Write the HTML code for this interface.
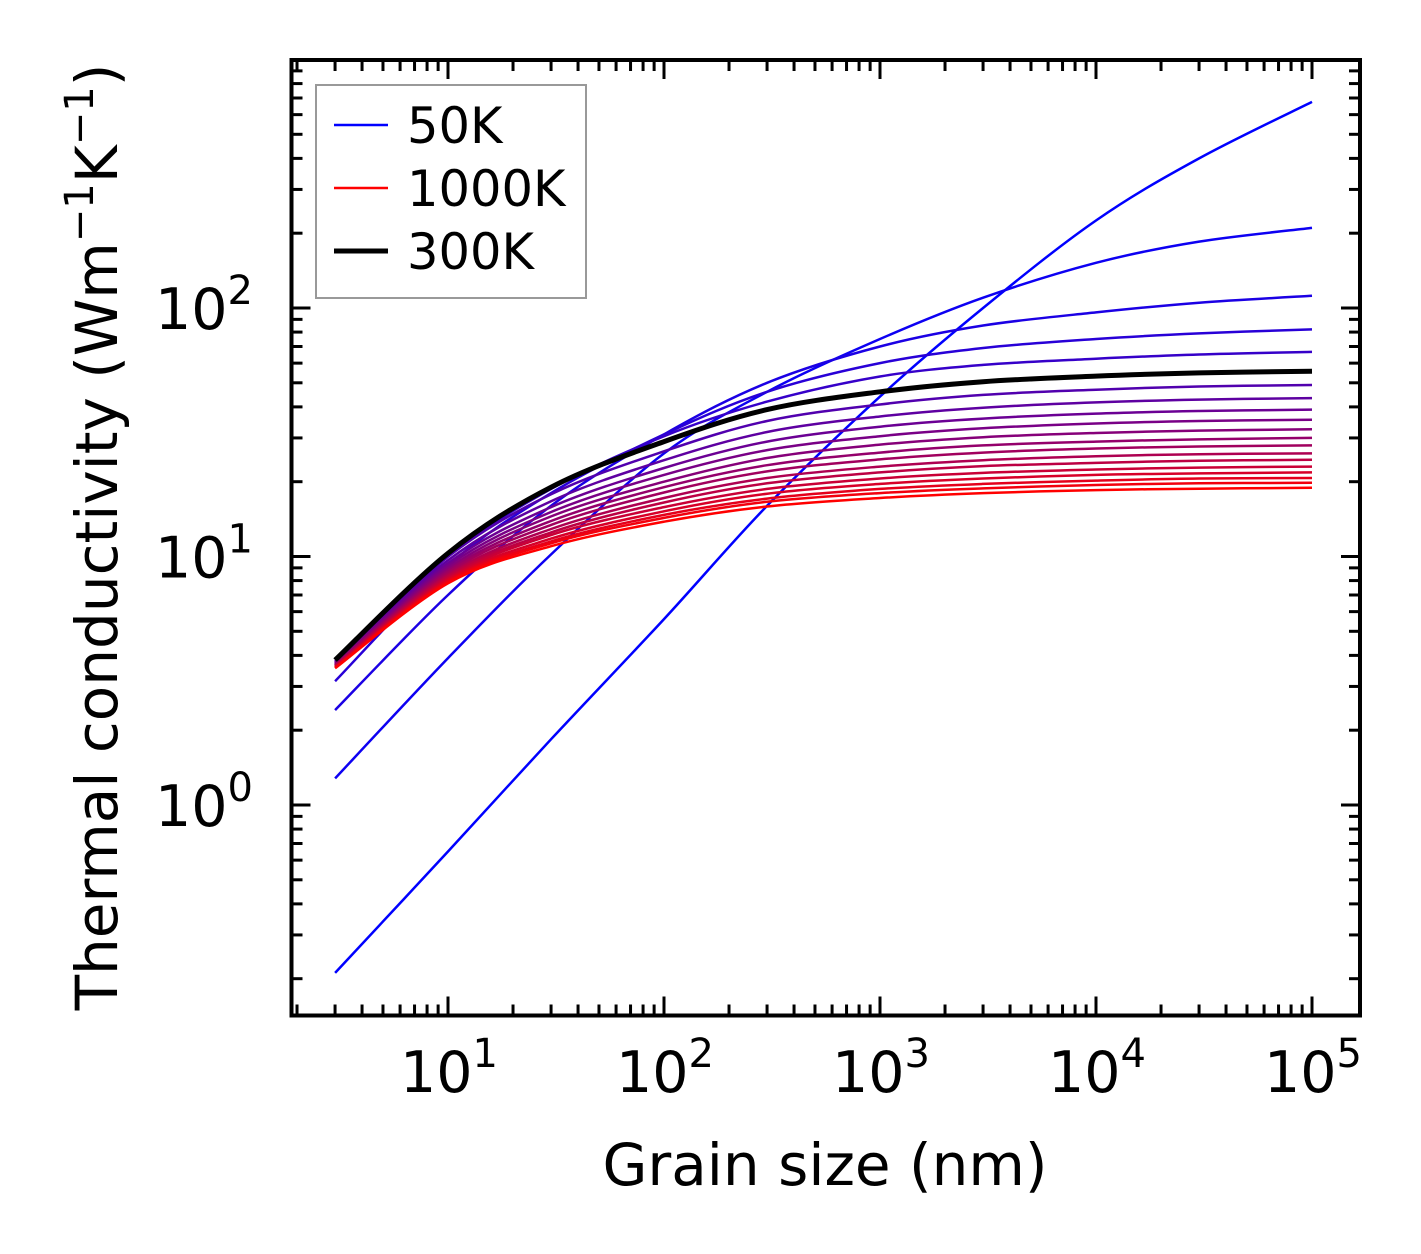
<!DOCTYPE html>
<html><head><meta charset="utf-8"><style>
html,body{margin:0;padding:0;background:#fff;}
svg{display:block;font-family:"DejaVu Sans","Liberation Sans",sans-serif;}
</style></head><body>
<svg id="chart" width="1421" height="1254" viewBox="0 0 1421 1254" xmlns="http://www.w3.org/2000/svg">
<rect width="1421" height="1254" fill="#fff"/>
<g id="curves"></g>
<g id="ticks"></g>
<rect x="291.5" y="60" width="1068.5" height="955.5" fill="none" stroke="#000" stroke-width="4"/>
<g id="labels" font-size="57"></g>
<text x="825" y="1185" font-size="58" text-anchor="middle">Grain size (nm)</text>
<text transform="translate(117,537) rotate(-90)" font-size="58" text-anchor="middle">Thermal conductivity (Wm<tspan font-size="40" dy="-24">−1</tspan><tspan dy="24">K</tspan><tspan font-size="40" dy="-24">−1</tspan><tspan dy="24">)</tspan></text>
<g>
<rect x="316" y="85" width="270" height="213" fill="#fff" stroke="#999" stroke-width="2"/>
<line x1="334" y1="125" x2="388" y2="125" stroke="#0000ff" stroke-width="2.5"/>
<text x="407" y="143" font-size="49.5">50K</text>
<line x1="334" y1="188" x2="388" y2="188" stroke="#ff0000" stroke-width="2.5"/>
<text x="407" y="206" font-size="49.5">1000K</text>
<line x1="334" y1="251" x2="388" y2="251" stroke="#000" stroke-width="5"/>
<text x="407" y="269" font-size="49.5">300K</text>
</g>
</svg>
<script>
const grainSizes = [3,10,30,100,300,1000,3000,10000,30000,100000];
const temperatures = [50,100,150,200,250,300,350,400,450,500,550,600,650,700,750,800,850,900,950,1000];
const k50 = [0.211,0.65,1.84,5.6,16,44,100,225,400,675];
const k100 = [1.28,3.9,10.2,26,46,75,110,152,185,210];
const k150 = [2.41,7.0,16,31,50,70,85,96,105,112];
const k200 = [3.15,9.2,18,31,46,60,69,75,79,82];
const k250 = [3.66,10,18.7,30.5,42,53,59,62.5,65,66.6];
const k300 = [3.83,10.3,19,29,39,46,50.5,53.2,54.8,55.7];
const k350 = [3.79,9.98,17.8,26.5,35.1,40.9,44.7,46.9,48.3,49.0];
const k400 = [3.76,9.66,16.7,24.4,31.7,36.6,39.7,41.7,42.8,43.4];
const k450 = [3.73,9.40,15.8,22.7,29.0,33.3,35.9,37.6,38.5,39.0];
const k500 = [3.71,9.18,15.1,21.3,26.8,30.5,32.8,34.3,35.1,35.5];
const k550 = [3.69,8.97,14.5,20.0,24.9,28.2,30.2,31.4,32.1,32.5];
const k600 = [3.66,8.79,13.9,19.0,23.3,26.2,28.0,29.0,29.6,30.0];
const k650 = [3.65,8.63,13.4,18.1,22.0,24.6,26.2,27.2,27.7,28.0];
const k700 = [3.63,8.47,12.9,17.2,20.7,23.0,24.4,25.3,25.8,26.0];
const k750 = [3.61,8.34,12.5,16.5,19.7,21.8,23.1,23.8,24.3,24.5];
const k800 = [3.60,8.20,12.2,15.8,18.7,20.6,21.7,22.4,22.8,23.0];
const k850 = [3.58,8.09,11.8,15.2,17.9,19.6,20.6,21.3,21.6,21.8];
const k900 = [3.57,7.98,11.5,14.7,17.1,18.7,19.6,20.2,20.6,20.7];
const k950 = [3.56,7.89,11.3,14.3,16.6,18.0,18.8,19.4,19.7,19.8];
const k1000 = [3.55,7.8,11.0,13.8,15.9,17.2,18.0,18.5,18.75,18.9];
const series = [k50,k100,k150,k200,k250,k300,k350,k400,k450,k500,k550,k600,k650,k700,k750,k800,k850,k900,k950,k1000];
const xTickExps = [1,2,3,4,5];
const yTickExps = [0,1,2];

const NS='http://www.w3.org/2000/svg';
const X0=448, XPD=216, Y0=805, YPD=248.5;
const xs = v => X0 + (Math.log10(v)-1)*XPD;
const ys = v => Y0 - Math.log10(v)*YPD;
const L=291.5, R=1360, T=60, B=1015.5;

function pathFor(vals){
  const p = grainSizes.map((g,i)=>[xs(g), ys(vals[i])]);
  let d = `M${p[0][0].toFixed(1)},${p[0][1].toFixed(1)}`;
  for(let i=0;i<p.length-1;i++){
    const p0=p[Math.max(i-1,0)], p1=p[i], p2=p[i+1], p3=p[Math.min(i+2,p.length-1)];
    const c1=[p1[0]+(p2[0]-p0[0])/6, p1[1]+(p2[1]-p0[1])/6];
    const c2=[p2[0]-(p3[0]-p1[0])/6, p2[1]-(p3[1]-p1[1])/6];
    d+=` C${c1[0].toFixed(1)},${c1[1].toFixed(1)} ${c2[0].toFixed(1)},${c2[1].toFixed(1)} ${p2[0].toFixed(1)},${p2[1].toFixed(1)}`;
  }
  return d;
}
const cg=document.getElementById('curves');
let black=null;
series.forEach((vals,i)=>{
  const t=temperatures[i];
  const el=document.createElementNS(NS,'path');
  el.setAttribute('d',pathFor(vals));
  el.setAttribute('fill','none');
  const r=Math.round(255*i/(series.length-1));
  el.setAttribute('stroke', t===300?'#000':`rgb(${r},0,${255-r})`);
  el.setAttribute('stroke-width', t===300?5:2.5);
  
  
  if(t===300) black=el; else cg.appendChild(el);
});
cg.appendChild(black);

const tg=document.getElementById('ticks');
function tick(x1,y1,x2,y2,w,name){
  const l=document.createElementNS(NS,'line');
  l.setAttribute('x1',x1);l.setAttribute('y1',y1);l.setAttribute('x2',x2);l.setAttribute('y2',y2);
  l.setAttribute('stroke','#000');l.setAttribute('stroke-width',w);
  
  
  tg.appendChild(l);
}
for(let e=0;e<=5;e++){
  for(let m=1;m<10;m++){
    const v=m*Math.pow(10,e); const x=xs(v);
    if(x<L+2||x>R-2) continue;
    const len = m===1?19:11;
    tick(x,B,x,B-len,3,'x-tick');
    tick(x,T,x,T+len,3,'x-tick-top');
  }
}
for(let e=-1;e<=2;e++){
  for(let m=1;m<10;m++){
    const v=m*Math.pow(10,e); const y=ys(v);
    if(y<T+2||y>B-2) continue;
    const len = m===1?19:11;
    tick(L,y,L+len,y,3,'y-tick');
    tick(R,y,R-len,y,3,'y-tick-right');
  }
}
const lg=document.getElementById('labels');
xTickExps.forEach(e=>{
  const t=document.createElementNS(NS,'text');
  t.setAttribute('x',xs(Math.pow(10,e))+1);t.setAttribute('y',1092);t.setAttribute('text-anchor','middle');
  t.innerHTML=`10<tspan font-size="40" dy="-25">${e}</tspan>`;
  
  
  lg.appendChild(t);
});
yTickExps.forEach(e=>{
  const t=document.createElementNS(NS,'text');
  t.setAttribute('x',253);t.setAttribute('y',ys(Math.pow(10,e))+21);t.setAttribute('text-anchor','end');
  t.innerHTML=`10<tspan font-size="40" dy="-25">${e}</tspan>`;
  
  
  lg.appendChild(t);
});
</script>
</body></html>
